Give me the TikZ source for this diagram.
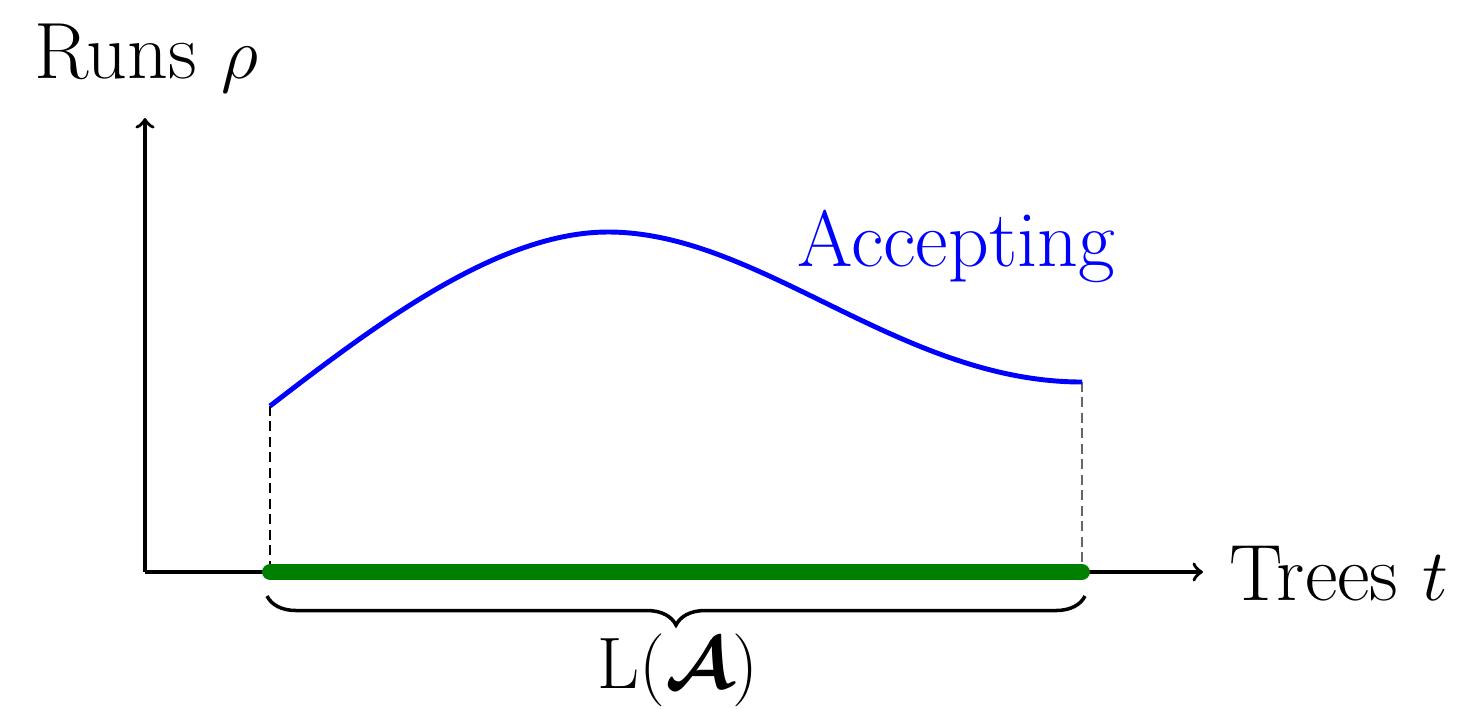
\documentclass[tikz,border=0pt]{standalone}
\usepackage{amsmath,bm}
\usetikzlibrary{decorations.pathreplacing}
\definecolor{darkgreen}{RGB}{0,128,0}
\begin{document}
\begin{tikzpicture}[x=0.01cm,y=-0.01cm,
  axis/.style={line width=1pt,->},
  lbl/.style={inner sep=0pt,anchor=base west,font=\fontsize{22.7}{27}\selectfont},
  guide/.style={line width=0.4pt,dash pattern=on 2.8pt off 1.6pt},
  runcurve/.style={blue,line width=1.4pt},
  lang/.style={darkgreen,line width=4.5pt,line cap=round},
  bracestyle/.style={line width=1pt,decorate,decoration={brace,mirror,amplitude=0.29cm}}]
\useasboundingbox (0,0) rectangle (1479,708);
\coordinate (o) at (145,572);
\coordinate (ytop) at (145,118);
\coordinate (xend) at (1203,572);
\coordinate (a) at (270,406);
\coordinate (peak) at (608,232);
\coordinate (b) at (1082,382);
\coordinate (a0) at (270,572);
\coordinate (b0) at (1082,572);
\coordinate (br1) at (267,596);
\coordinate (br2) at (1085,596);
\draw[axis] (o) -- (ytop);
\draw[axis] (o) -- (xend);
\draw[guide] (a) -- (a0);
\draw[guide,black!60] (b) -- (b0);
\draw[lang] (a0) -- (b0);
\draw[runcurve] (a) .. controls (380,321) and (500,232) .. (peak)
  .. controls (760,232) and (900,382) .. (b);
\draw[bracestyle] (br1) -- (br2);
\node[lbl] (runs) at (34,78) {Runs $\rho$};
\node[lbl] (trees) at (1229,600) {Trees $t$};
\node[lbl,blue] (acc) at (797,266) {Accepting};
\node[lbl] (lang) at (597,688) {$\mathrm{L}(\boldsymbol{\mathcal{A}})$};
\end{tikzpicture}
\end{document}
